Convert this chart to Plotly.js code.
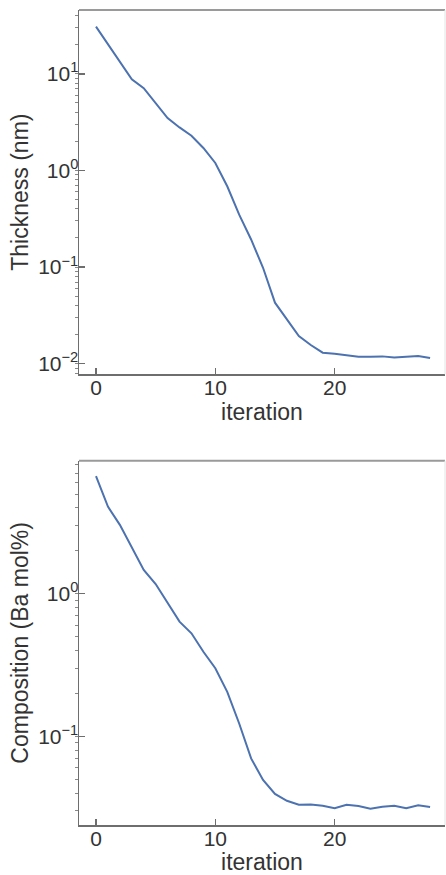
<!DOCTYPE html>
<html>
<head>
<meta charset="utf-8">
<script src="https://cdn.plot.ly/plotly-3.0.1.min.js"></script>
<style>
  html, body { margin: 0; padding: 0; background: #fff; }
  #chart { width: 446px; height: 875px; }
</style>
</head>
<body>
<div id="chart"></div>
<script>
// Optimisation history: film thickness and Ba composition per iteration
const iteration = [0, 1, 2, 3, 4, 5, 6, 7, 8, 9, 10, 11, 12, 13, 14,
                   15, 16, 17, 18, 19, 20, 21, 22, 23, 24, 25, 26, 27, 28];

const thickness = [30.8, 20.3, 13.3, 8.8, 7.1, 4.98, 3.49, 2.79, 2.29, 1.71,
                   1.195, 0.686, 0.349, 0.193, 0.0984, 0.0428, 0.0288, 0.0193,
                   0.0156, 0.0130, 0.0127, 0.0123, 0.0118, 0.0118, 0.0119,
                   0.01156, 0.0118, 0.0120, 0.01145];

const composition = [6.69, 4.08, 3.04, 2.12, 1.47, 1.17, 0.857, 0.637, 0.528,
                     0.392, 0.300, 0.205, 0.123, 0.070, 0.0494, 0.0394, 0.0353,
                     0.0331, 0.0333, 0.0326, 0.0313, 0.0331, 0.0325, 0.0311,
                     0.0321, 0.0326, 0.0313, 0.0328, 0.0319];

const thickTickVals = [0.01, 0.1, 1, 10];
const thickTickText = ['10<sup>−2</sup>', '10<sup>−1</sup>', '10<sup>0</sup>', '10<sup>1</sup>'];
const compTickVals = [0.1, 1];
const compTickText = ['10<sup>−1</sup>', '10<sup>0</sup>'];
const xTickVals = [0, 10, 20];

const FONT = '"Liberation Sans", Arial, Helvetica, sans-serif';
const LINE_BLUE = '#4c72b0';
const SPINE = '#6e6e6e';
const TEXT = '#333333';

const traces = [
  { x: iteration, y: thickness, xaxis: 'x', yaxis: 'y', type: 'scatter', mode: 'lines',
    line: { color: LINE_BLUE, width: 2 }, hoverinfo: 'x+y', showlegend: false },
  { x: iteration, y: composition, xaxis: 'x2', yaxis: 'y2', type: 'scatter', mode: 'lines',
    line: { color: LINE_BLUE, width: 2 }, hoverinfo: 'x+y', showlegend: false }
];

function xAxis(anchor, titleGap) {
  return {
    anchor: anchor, domain: [0, 1], range: [-1.425, 29.25],
    tickmode: 'array', tickvals: xTickVals,
    ticks: 'inside', ticklen: 6, tickwidth: 1.5, tickcolor: SPINE,
    ticklabelstandoff: -6,
    showline: true, linecolor: SPINE, linewidth: 1.5,
    showgrid: false, zeroline: false,
    tickfont: { family: FONT, size: 21, color: TEXT },
    title: { text: 'iteration', font: { family: FONT, size: 23, color: TEXT }, standoff: titleGap }
  };
}

function yAxis(anchor, domain, range, vals, text, title) {
  return {
    anchor: anchor, domain: domain, type: 'log', range: range,
    tickmode: 'array', tickvals: vals, ticktext: text,
    ticks: 'inside', ticklen: 6, tickwidth: 1.5, tickcolor: SPINE,
    ticklabelstandoff: -5,
    minor: { dtick: 'D1', ticks: 'outside', ticklen: 3, tickwidth: 1, tickcolor: '#888', showgrid: false },
    showline: true, linecolor: SPINE, linewidth: 1.5,
    showgrid: false, zeroline: false,
    tickfont: { family: FONT, size: 21, color: TEXT },
    title: { text: title, font: { family: FONT, size: 23, color: TEXT }, standoff: 3 }
  };
}

// light frame on the top and right sides of each panel
function frame(xa, ya) {
  return [
    { type: 'line', xref: xa + ' domain', yref: ya + ' domain', x0: 0, x1: 1, y0: 1, y1: 1,
      line: { color: '#9a9a9a', width: 2 } },
    { type: 'line', xref: xa + ' domain', yref: ya + ' domain', x0: 1, x1: 1, y0: 0, y1: 1,
      line: { color: '#e4e4e4', width: 1 } }
  ];
}

const layout = {
  width: 446, height: 875,
  margin: { l: 79, r: 1, t: 10, b: 50 },
  paper_bgcolor: '#ffffff', plot_bgcolor: '#ffffff',
  font: { family: FONT, color: TEXT },
  xaxis: xAxis('y', 1),
  yaxis: yAxis('x', [0.553, 1], [-2.11, 1.661], thickTickVals, thickTickText, 'Thickness (nm)'),
  xaxis2: xAxis('y2', 4),
  yaxis2: yAxis('x2', [0, 0.447], [-1.622, 0.933], compTickVals, compTickText, 'Composition (Ba mol%)'),
  shapes: frame('x', 'y').concat(frame('x2', 'y2')),
  showlegend: false
};

Plotly.newPlot('chart', traces, layout, { displayModeBar: false, staticPlot: true });
</script>
</body>
</html>
